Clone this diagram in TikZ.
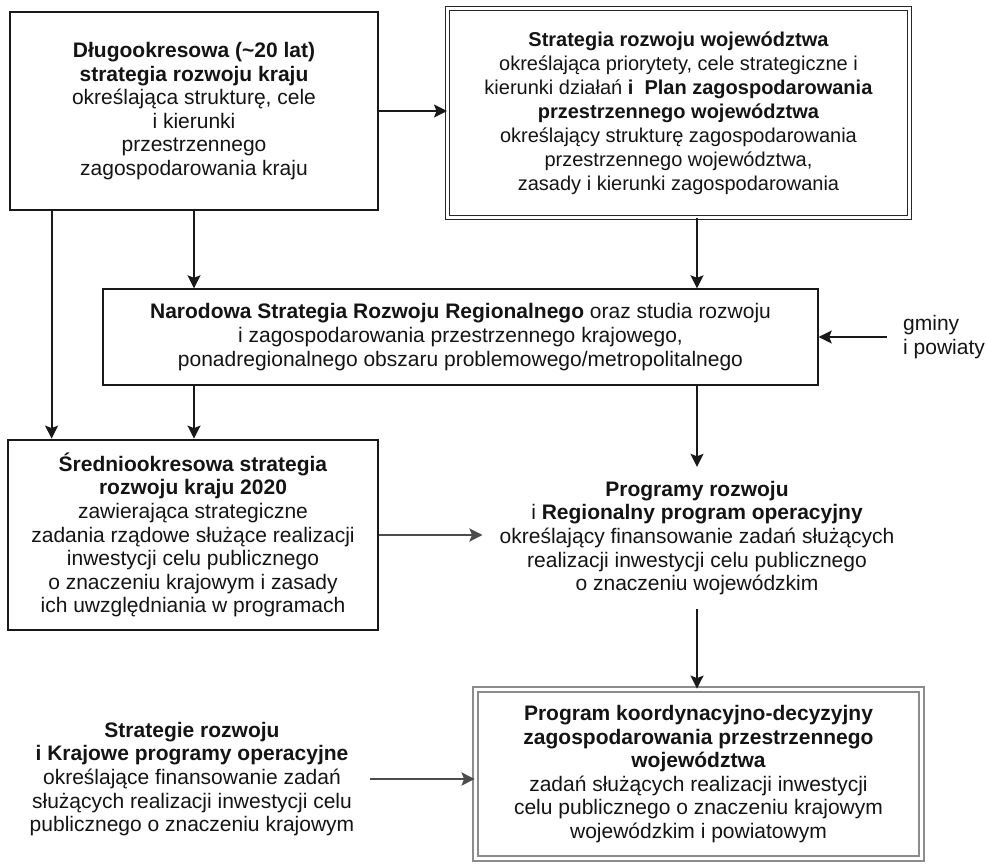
\documentclass[tikz,border=0pt]{standalone}
\usepackage{fontspec}
\setmainfont{Liberation Sans}
\usetikzlibrary{arrows.meta}
\begin{document}
\begin{tikzpicture}[x=1pt,y=-1pt,
  txt/.style={align=center, text=black!92, font=\fontsize{21}{23.6}\selectfont, inner sep=0pt},
  thickbox/.style={txt, draw=black!90, line width=2.8pt, fill=white},
  thinbox/.style={txt, draw=black!90, line width=1.4pt, fill=white},
  dblbox/.style={txt, draw=black!85, line width=1pt, double=white, double distance=3pt},
  graybox/.style={txt, draw=black!45, line width=1.8pt, double=white, double distance=2.6pt},
  arr/.style={draw=black!90, line width=1.8pt, -{Stealth[length=13pt,width=13pt,inset=2.5pt]}},
  garr/.style={draw=black!70, line width=2.6pt, -{Stealth[length=13pt,width=13pt,inset=2.5pt]}}
]
\useasboundingbox[fill=white] (0,0) rectangle (986,863);

% boxes
\node[thickbox, minimum width=368pt, minimum height=198pt] (A) at (194,111)
  {\textbf{Długookresowa (\textasciitilde20 lat)}\\
   \textbf{strategia rozwoju kraju}\\
   określająca strukturę, cele\\
   i kierunki\\
   przestrzennego\\
   zagospodarowania kraju};

\node[dblbox, font=\fontsize{20}{24}\selectfont, minimum width=462pt, minimum height=209pt] (B) at (678.5,113)
  {\textbf{Strategia rozwoju województwa}\\
   określająca priorytety, cele strategiczne i\\
   kierunki działań \textbf{i\ \ Plan zagospodarowania}\\
   \textbf{przestrzennego województwa}\\
   określający strukturę zagospodarowania\\
   przestrzennego województwa,\\
   zasady i kierunki zagospodarowania};

\node[thinbox, minimum width=715pt, minimum height=96pt] (C) at (460.5,337)
  {\textbf{Narodowa Strategia Rozwoju Regionalnego} oraz studia rozwoju\\
   i zagospodarowania przestrzennego krajowego,\\
   ponadregionalnego obszaru problemowego/metropolitalnego};

\node[thickbox, minimum width=370pt, minimum height=190pt] (D) at (193,535)
  {\textbf{Średniookresowa strategia}\\
   \textbf{rozwoju kraju 2020}\\
   zawierająca strategiczne\\
   zadania rządowe służące realizacji\\
   inwestycji celu publicznego\\
   o znaczeniu krajowym i zasady\\
   ich uwzględniania w programach};

\node[txt, inner xsep=17pt, inner ysep=14pt] (E) at (697,538)
  {\textbf{Programy rozwoju}\\
   i \textbf{Regionalny program operacyjny}\\
   określający finansowanie zadań służących\\
   realizacji inwestycji celu publicznego\\
   o znaczeniu wojewódzkim};

\node[graybox, minimum width=446pt, minimum height=169pt] (F) at (698.5,774)
  {\textbf{Program koordynacyjno-decyzyjny}\\
   \textbf{zagospodarowania przestrzennego}\\
   \textbf{województwa}\\
   zadań służących realizacji inwestycji\\
   celu publicznego o znaczeniu krajowym\\
   wojewódzkim i powiatowym};

\node[txt, inner xsep=16pt] (G) at (192,779)
  {\textbf{Strategie rozwoju}\\
   \textbf{i Krajowe programy operacyjne}\\
   określające finansowanie zadań\\
   służących realizacji inwestycji celu\\
   publicznego o znaczeniu krajowym};

\node[txt, align=left, anchor=west, inner xsep=16pt] (H) at (887,337)
  {gminy\\ i powiaty};

% connectors
\draw[arr] (A.east) -- (A.east -| B.west);
\draw[arr] ([xshift=43pt]A.south west) -- ([xshift=43pt]A.south west |- D.north);
\draw[arr] (A.south) -- (A.south |- C.north);
\draw[arr] ([xshift=18.5pt]B.south) -- ([xshift=18.5pt]B.south |- C.north);
\draw[arr] (A.south |- C.south) -- (A.south |- D.north);
\draw[arr] ([xshift=18.5pt]B.south |- C.south) -- ([xshift=18.5pt]B.south |- E.north);
\draw[arr] (H.west) -- (H.west -| C.east);
\draw[garr] (D.east) -- (D.east -| E.west);
\draw[arr] (E.south) -- (E.south |- F.north);
\draw[garr] (G.east) -- (G.east -| F.west);
\end{tikzpicture}
\end{document}
